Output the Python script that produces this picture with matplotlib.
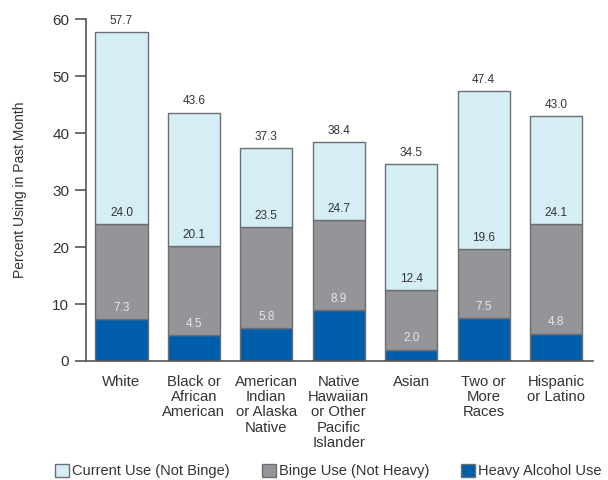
import numpy as np
import matplotlib.pyplot as plt
from matplotlib.patches import Patch

plt.rcParams['font.family'] = ['Liberation Sans', 'DejaVu Sans']

# Categories and cumulative percentages (as labelled on the chart)
groups = ['White', 'Black or\nAfrican\nAmerican', 'American\nIndian\nor Alaska\nNative',
          'Native\nHawaiian\nor Other\nPacific\nIslander', 'Asian', 'Two or\nMore\nRaces',
          'Hispanic\nor Latino']
heavy = [7.3, 4.5, 5.8, 8.9, 2.0, 7.5, 4.8]          # heavy alcohol use
binge = [24.0, 20.1, 23.5, 24.7, 12.4, 19.6, 24.1]   # binge use (incl. heavy)
current = [57.7, 43.6, 37.3, 38.4, 34.5, 47.4, 43.0] # current use (incl. binge)

c_current = '#d5edf5'
c_binge = '#939598'
c_heavy = '#005daa'
edge = '#6d6e71'
text_c = '#333333'

fig = plt.figure(figsize=(6.08, 4.8), dpi=100)
ax = fig.add_axes([0.1414, 0.248, 0.834, 0.712])

x = np.arange(len(groups))
heavy = np.array(heavy)
binge = np.array(binge)
current = np.array(current)
w = 0.72

ax.bar(x, heavy, w, color=c_heavy, edgecolor=edge, linewidth=1)
ax.bar(x, binge - heavy, w, bottom=heavy, color=c_binge, edgecolor=edge, linewidth=1)
ax.bar(x, current - binge, w, bottom=binge, color=c_current, edgecolor=edge, linewidth=1)

for i in range(len(x)):
    ax.text(x[i], current[i] + 0.9, f'{current[i]:.1f}', ha='center', va='bottom',
            fontsize=8.5, color=text_c)
    ax.text(x[i], binge[i] + 0.9, f'{binge[i]:.1f}', ha='center', va='bottom',
            fontsize=8.5, color=text_c)
    ax.text(x[i], heavy[i] + 0.9, f'{heavy[i]:.1f}', ha='center', va='bottom',
            fontsize=8.5, color='#e8e8e8')

ax.set_ylim(0, 60)
ax.set_xlim(-0.49, 6.51)
ax.set_yticks(range(0, 61, 10))
ax.set_xticks(x)
ax.set_xticklabels(groups, fontsize=10.7, color=text_c, linespacing=1.12)
ax.tick_params(axis='x', length=0, pad=10)
ax.tick_params(axis='y', labelsize=11, colors=text_c, length=8, width=1.2, direction='out',
               color='#555555', pad=4)
ax.set_ylabel('Percent Using in Past Month', fontsize=10, color=text_c, labelpad=18)

for s in ['top', 'right']:
    ax.spines[s].set_visible(False)
ax.spines['left'].set_color('#555555')
ax.spines['left'].set_linewidth(1.2)
ax.spines['bottom'].set_color('#555555')
ax.spines['bottom'].set_linewidth(1.2)

handles = [Patch(facecolor=c_current, edgecolor=edge, label='Current Use (Not Binge)'),
           Patch(facecolor=c_binge, edgecolor=edge, label='Binge Use (Not Heavy)'),
           Patch(facecolor=c_heavy, edgecolor=edge, label='Heavy Alcohol Use')]
leg = fig.legend(handles=handles, loc='lower center', bbox_to_anchor=(0.54, -0.024), ncol=3,
                 frameon=False, fontsize=10.5, handlelength=0.95, handleheight=0.95,
                 handletextpad=0.22, columnspacing=2.2)
for t in leg.get_texts():
    t.set_color(text_c)

fig.savefig('out.png', dpi=100)
